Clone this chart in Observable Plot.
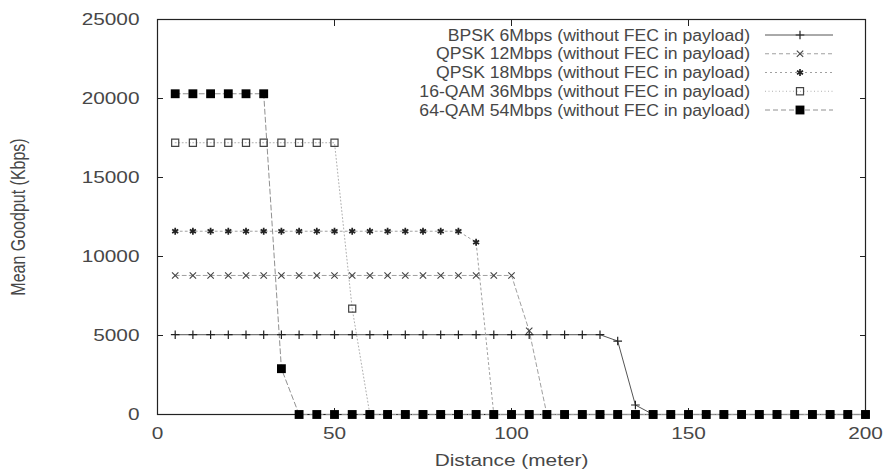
<!DOCTYPE html>
<html>
<head>
<meta charset="utf-8">
<script src="https://cdn.jsdelivr.net/npm/d3@7"></script>
<script src="https://cdn.jsdelivr.net/npm/@observablehq/plot@0.6"></script>
<style>
  html, body { margin: 0; padding: 0; background: #fff; }
  #chart { width: 890px; height: 473px; }
</style>
</head>
<body>
<div id="chart"></div>
<script>
// ---- data ----
const distances = [5,10,15,20,25,30,35,40,45,50,55,60,65,70,75,80,85,90,95,100,
                   105,110,115,120,125,130,135,140,145,150,155,160,165,170,175,180,185,190,195,200];

const seriesNames = [
  "BPSK 6Mbps (without FEC in payload)",
  "QPSK 12Mbps (without FEC in payload)",
  "QPSK 18Mbps (without FEC in payload)",
  "16-QAM 36Mbps (without FEC in payload)",
  "64-QAM 54Mbps (without FEC in payload)"
];

const bpsk6 = [5050,5050,5050,5050,5050,5050,5050,5050,5050,5050,5050,5050,5050,5050,5050,5050,5050,5050,5050,5050,
               5050,5050,5050,5050,5050,4650,600,0,0,0,0,0,0,0,0,0,0,0,0,0];
const qpsk12 = [8800,8800,8800,8800,8800,8800,8800,8800,8800,8800,8800,8800,8800,8800,8800,8800,8800,8800,8800,8800,
                5300,0,0,0,0,0,0,0,0,0,0,0,0,0,0,0,0,0,0,0];
const qpsk18 = [11600,11600,11600,11600,11600,11600,11600,11600,11600,11600,11600,11600,11600,11600,11600,11600,11600,10900,0,0,
                0,0,0,0,0,0,0,0,0,0,0,0,0,0,0,0,0,0,0,0];
const qam16 = [17200,17200,17200,17200,17200,17200,17200,17200,17200,17200,6700,0,0,0,0,0,0,0,0,0,
               0,0,0,0,0,0,0,0,0,0,0,0,0,0,0,0,0,0,0,0];
const qam64 = [20300,20300,20300,20300,20300,20300,2900,0,0,0,0,0,0,0,0,0,0,0,0,0,
               0,0,0,0,0,0,0,0,0,0,0,0,0,0,0,0,0,0,0,0];

const xTicks = [0, 50, 100, 150, 200];
const yTicks = [0, 5000, 10000, 15000, 20000, 25000];

const seriesValues = [bpsk6, qpsk12, qpsk18, qam16, qam64];

// ---- styles ----
const styles = [
  {symbol: "plus",     r: 2.9, fill: "none",  stroke: "#222", sw: 1.2, line: "#555", dash: null,  lw: 1},
  {symbol: "times",    r: 3.0, fill: "none",  stroke: "#444", sw: 1.1, line: "#a0a0a0", dash: "4,3", lw: 1},
  {symbol: "asterisk", r: 3.3, fill: "none",  stroke: "#222", sw: 1.7, line: "#a0a0a0", dash: "2,3", lw: 1},
  {symbol: "square",   r: 4.0, fill: "none",  stroke: "#444", sw: 1.2, line: "#b0b0b0", dash: "1,2.5", lw: 1},
  {symbol: "square",   r: 5.0, fill: "#000",  stroke: "none", sw: 0,   line: "#909090", dash: "5,3", lw: 1}
];

const table = seriesNames.flatMap((name, i) =>
  distances.map((d, j) => ({series: name, idx: i, distance: d, goodput: seriesValues[i][j]})));

const marks = [];
seriesNames.forEach((name, i) => {
  const s = styles[i];
  const rows = table.filter(r => r.idx === i);
  marks.push(Plot.line(rows, {x: "distance", y: "goodput", stroke: s.line, strokeWidth: s.lw, strokeDasharray: s.dash}));
});
seriesNames.forEach((name, i) => {
  const s = styles[i];
  const rows = table.filter(r => r.idx === i);
  marks.push(Plot.dot(rows, {x: "distance", y: "goodput", symbol: () => s.symbol, r: s.r,
    fill: s.fill, stroke: s.stroke, strokeWidth: s.sw}));
});

const textColor = "#474747";

const plot = Plot.plot({
  width: 890,
  height: 473,
  marginLeft: 157,
  marginRight: 25,
  marginTop: 19,
  marginBottom: 59,
  style: {fontFamily: "'Liberation Sans', Arial, sans-serif", fontSize: "16px", color: textColor, background: "#fff"},
  x: {domain: [0, 200]},
  y: {domain: [0, 25000]},
  symbol: {type: "identity"},
  marks: [
    // labels
    Plot.axisX({ticks: xTicks, tickSize: 0, tickPadding: 13, tickFormat: "d",
      label: "Distance (meter)", labelAnchor: "center", labelArrow: "none", labelOffset: 51}),
    Plot.axisY({ticks: yTicks, tickSize: 0, tickPadding: 18, tickFormat: "d",
      label: "Mean Goodput (Kbps)", labelAnchor: "center", labelArrow: "none", labelOffset: 147}),
    // inward ticks on all sides
    Plot.axisX({ticks: xTicks, anchor: "bottom", tickSize: 6, dy: -6, tickFormat: () => "", label: null, stroke: "#222"}),
    Plot.axisX({ticks: xTicks, anchor: "top", tickSize: 6, dy: 6, tickFormat: () => "", label: null, stroke: "#222"}),
    Plot.axisY({ticks: yTicks, anchor: "left", tickSize: 6, dx: 6, tickFormat: () => "", label: null, stroke: "#222"}),
    Plot.axisY({ticks: yTicks, anchor: "right", tickSize: 6, dx: -6, tickFormat: () => "", label: null, stroke: "#222"}),
    Plot.frame({stroke: "#222", strokeWidth: 1.2}),
    ...marks
  ]
});

document.getElementById("chart").appendChild(plot);

// ---- horizontal stretch of the axis text, as in the reference image ----
const k = 1.3;
plot.querySelectorAll("text").forEach(t => {
  if (!t.textContent) return;
  const parentLabel = t.closest("g[aria-label]");
  const isYLabel = parentLabel && parentLabel.getAttribute("aria-label") === "y-axis label";
  if (isYLabel) {
    const tr = t.getAttribute("transform") || "";
    t.setAttribute("transform", tr + " scale(1," + k + ")");
  } else {
    const len = t.getComputedTextLength();
    if (len > 0) {
      t.setAttribute("textLength", len * k);
      t.setAttribute("lengthAdjust", "spacingAndGlyphs");
    }
  }
});

// ---- legend (top-right, inside the frame) ----
const svg = d3.select(plot);
const leg = svg.append("g").attr("class", "legend")
  .style("font-family", "'Liberation Sans', Arial, sans-serif").style("font-size", "16px");
const legTextRight = 750, legLineX1 = 765, legLineX2 = 833, legMarkX = 800;
const kLeg = 1.1;
seriesNames.forEach((name, i) => {
  const s = styles[i];
  const yy = 35 + i * 18.75;
  const t = leg.append("text").attr("x", legTextRight).attr("y", yy).attr("dy", "0.35em")
    .attr("text-anchor", "end").attr("fill", textColor).text(name);
  const len = t.node().getComputedTextLength();
  t.attr("textLength", len * kLeg).attr("lengthAdjust", "spacingAndGlyphs");
  leg.append("line").attr("x1", legLineX1).attr("x2", legLineX2).attr("y1", yy).attr("y2", yy)
    .attr("stroke", s.line).attr("stroke-width", s.lw).attr("stroke-dasharray", s.dash);
  const sym = {plus: d3.symbolPlus, times: d3.symbolTimes, square: d3.symbolSquare, asterisk: d3.symbolAsterisk}[s.symbol];
  leg.append("path").attr("transform", `translate(${legMarkX},${yy})`)
    .attr("d", d3.symbol(sym, Math.PI * s.r * s.r)())
    .attr("fill", s.fill).attr("stroke", s.stroke).attr("stroke-width", s.sw);
});
</script>
</body>
</html>
